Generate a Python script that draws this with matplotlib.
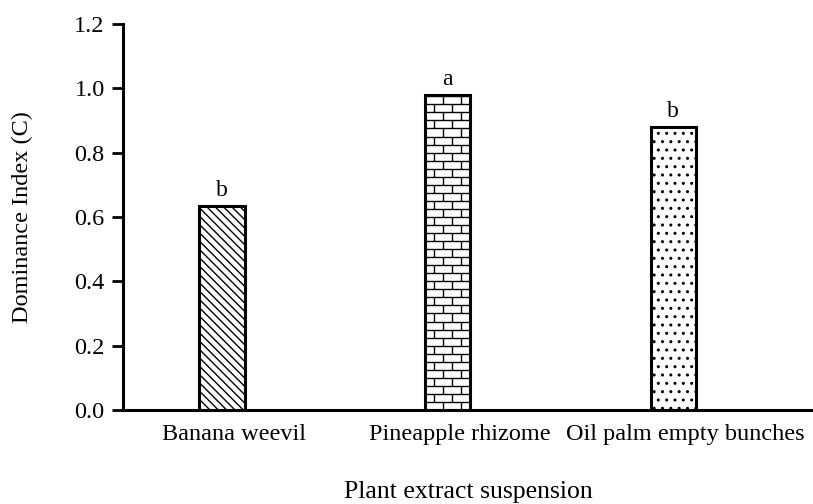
import numpy as np
import matplotlib.pyplot as plt
import matplotlib.transforms as mtransforms

plt.rcParams['font.family'] = ['Liberation Serif', 'DejaVu Serif']
plt.rcParams['hatch.linewidth'] = 1.0

categories = ['Banana weevil', 'Pineapple rhizome', 'Oil palm empty bunches']
values = [0.635, 0.98, 0.88]
letters = ['b', 'a', 'b']
yticks = [0.0, 0.2, 0.4, 0.6, 0.8, 1.0, 1.2]

fig = plt.figure(figsize=(8.13, 5.04), dpi=100)
ax = fig.add_axes([0.151, 0.1865, 0.849, 0.766])

x = np.arange(len(categories))
bars = ax.bar(x, values, width=0.2, color='white', edgecolor='black', linewidth=2.2)

# hatching for first and third bar
bars[0].set_hatch('\\\\\\\\')
bars[2].set_hatch('..')

# brick pattern for the pineapple bar, clipped to the bar
b = bars[1]
x0, w, h = b.get_x(), b.get_width(), b.get_height()
row = 0.025
brick = 0.08
ys = np.arange(0, h + row, row)
ax.hlines(ys, x0, x0 + w, color='black', lw=1.0, clip_path=b, zorder=3)
for i, y in enumerate(ys[:-1]):
    off = 0 if i % 2 == 0 else brick / 2
    xs = np.arange(x0 + off, x0 + w, brick)
    ax.vlines(xs, y, y + row, color='black', lw=1.0, clip_path=b, zorder=3)

for xi, v, l in zip(x, values, letters):
    ax.text(xi, v + 0.015, l, ha='center', va='bottom', fontsize=17)

ax.set_xlim(-0.44, 2.62)
ax.set_ylim(0, 1.2)
ax.set_yticks(yticks)
ax.set_yticklabels(['%.1f' % t for t in yticks])
ax.set_xticks(x)
ax.set_xticklabels(categories)
ax.tick_params(axis='y', length=8, width=2, labelsize=17.5, direction='out', pad=5)
ax.tick_params(axis='x', length=0, labelsize=17.5, pad=10)
# category labels sit a little right of the bar centres in the original
shift = mtransforms.ScaledTranslation(0.12, 0, fig.dpi_scale_trans)
for lab in ax.get_xticklabels():
    lab.set_transform(lab.get_transform() + shift)
for s in ['top', 'right']:
    ax.spines[s].set_visible(False)
for s in ['left', 'bottom']:
    ax.spines[s].set_linewidth(2.2)

ax.set_ylabel('Dominance Index (C)', fontsize=17.5, labelpad=30)
ax.set_xlabel('Plant extract suspension', fontsize=18.5, labelpad=26)

fig.savefig('out.png', dpi=100)
